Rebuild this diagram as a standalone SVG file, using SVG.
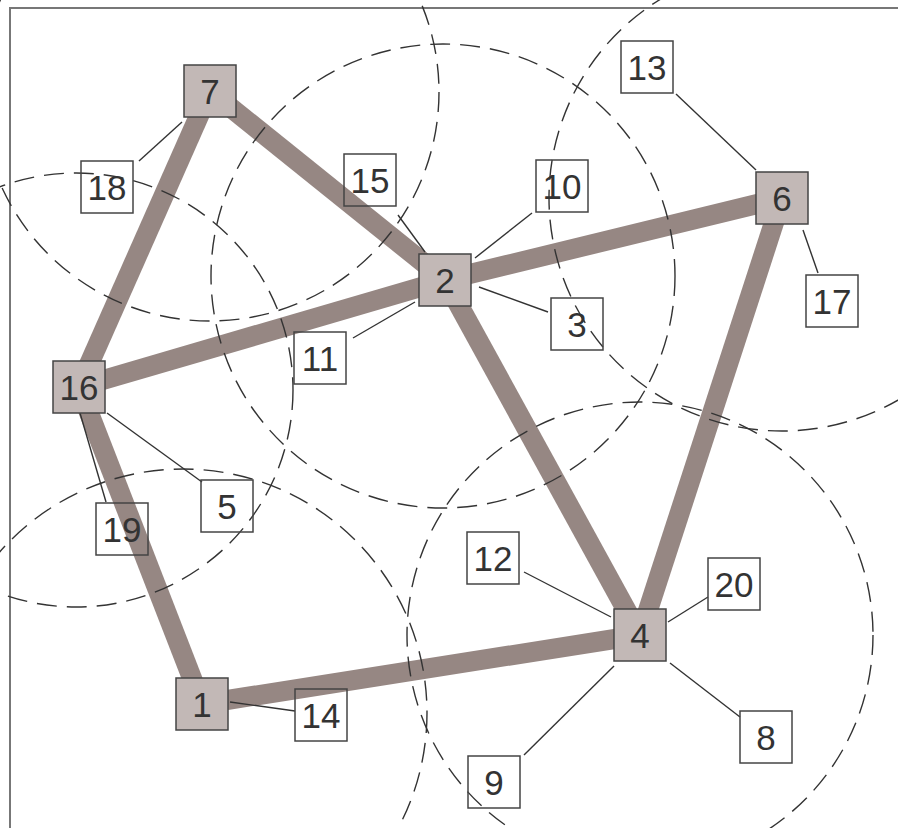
<svg xmlns="http://www.w3.org/2000/svg" width="898" height="828" viewBox="0 0 898 828">
<style>
.edge{stroke:#968783;stroke-width:20;stroke-linecap:butt;fill:none}
.range{fill:none;stroke:#333;stroke-width:1.4;stroke-dasharray:20 10}
.conn{stroke:#333;stroke-width:1.4}
.node rect{fill:#c2b8b6;stroke:#444;stroke-width:1.5}
.lbl rect{fill:none;stroke:#444;stroke-width:1.5}
text{font-family:"Liberation Sans",Arial,sans-serif;font-size:35px;fill:#333;text-anchor:middle}
</style>
<rect x="0" y="0" width="898" height="828" fill="#fff"/>
<path d="M10 828 V8 H898" fill="none" stroke="#777" stroke-width="2"/>
<g id="edges">
<line class="edge" x1="210" y1="91" x2="445" y2="280"/>
<line class="edge" x1="210" y1="91" x2="79" y2="387"/>
<line class="edge" x1="79" y1="387" x2="445" y2="280"/>
<line class="edge" x1="445" y1="280" x2="782" y2="198"/>
<line class="edge" x1="445" y1="280" x2="640" y2="635"/>
<line class="edge" x1="782" y1="198" x2="640" y2="635"/>
<line class="edge" x1="79" y1="387" x2="202" y2="704"/>
<line class="edge" x1="202" y1="704" x2="640" y2="635"/>
</g>
<g id="ranges">
<circle class="range" cx="210" cy="92" r="229"/>
<circle class="range" cx="76" cy="390" r="217"/>
<circle class="range" cx="443" cy="276" r="232"/>
<circle class="range" cx="782" cy="198" r="233"/>
<circle class="range" cx="640" cy="635" r="233"/>
<circle class="range" cx="183" cy="713" r="244"/>
</g>
<g id="connectors">
<line class="conn" x1="182" y1="122" x2="139" y2="161"/>
<line class="conn" x1="398" y1="215" x2="425" y2="252"/>
<line class="conn" x1="475" y1="258" x2="532" y2="213"/>
<line class="conn" x1="479" y1="287" x2="548" y2="312"/>
<line class="conn" x1="415" y1="302" x2="353" y2="338"/>
<line class="conn" x1="676" y1="94" x2="756" y2="170"/>
<line class="conn" x1="803" y1="230" x2="818" y2="273"/>
<line class="conn" x1="107" y1="413" x2="202" y2="482"/>
<line class="conn" x1="80" y1="413" x2="106" y2="502"/>
<line class="conn" x1="230" y1="702" x2="295" y2="711"/>
<line class="conn" x1="524" y1="572" x2="611" y2="617"/>
<line class="conn" x1="668" y1="622" x2="708" y2="597"/>
<line class="conn" x1="670" y1="663" x2="740" y2="717"/>
<line class="conn" x1="614" y1="666" x2="524" y2="755"/>
</g>
<g id="label-18" class="lbl"><rect x="81" y="161" width="52" height="52"/><text x="107" y="200">18</text></g>
<g id="label-15" class="lbl"><rect x="344" y="154" width="52" height="52"/><text x="370" y="193">15</text></g>
<g id="label-11" class="lbl"><rect x="294" y="332" width="52" height="52"/><text x="320" y="371">11</text></g>
<g id="label-13" class="lbl"><rect x="621" y="41" width="52" height="52"/><text x="647" y="80">13</text></g>
<g id="label-10" class="lbl"><rect x="536" y="160" width="52" height="52"/><text x="562" y="199">10</text></g>
<g id="label-3" class="lbl"><rect x="551" y="298" width="52" height="52"/><text x="577" y="337">3</text></g>
<g id="label-17" class="lbl"><rect x="806" y="275" width="52" height="52"/><text x="832" y="314">17</text></g>
<g id="label-5" class="lbl"><rect x="201" y="480" width="52" height="52"/><text x="227" y="519">5</text></g>
<g id="label-19" class="lbl"><rect x="96" y="503" width="52" height="52"/><text x="122" y="542">19</text></g>
<g id="label-14" class="lbl"><rect x="295" y="689" width="52" height="52"/><text x="321" y="728">14</text></g>
<g id="label-12" class="lbl"><rect x="467" y="532" width="52" height="52"/><text x="493" y="571">12</text></g>
<g id="label-20" class="lbl"><rect x="708" y="558" width="52" height="52"/><text x="734" y="597">20</text></g>
<g id="label-8" class="lbl"><rect x="740" y="711" width="52" height="52"/><text x="766" y="750">8</text></g>
<g id="label-9" class="lbl"><rect x="468" y="756" width="52" height="52"/><text x="494" y="795">9</text></g>
<g id="node-7" class="node"><rect x="184" y="65" width="52" height="52"/><text x="210" y="104">7</text></g>
<g id="node-16" class="node"><rect x="53" y="361" width="52" height="52"/><text x="79" y="400">16</text></g>
<g id="node-2" class="node"><rect x="419" y="254" width="52" height="52"/><text x="445" y="293">2</text></g>
<g id="node-6" class="node"><rect x="756" y="172" width="52" height="52"/><text x="782" y="211">6</text></g>
<g id="node-4" class="node"><rect x="614" y="609" width="52" height="52"/><text x="640" y="648">4</text></g>
<g id="node-1" class="node"><rect x="176" y="678" width="52" height="52"/><text x="202" y="717">1</text></g>
</svg>
